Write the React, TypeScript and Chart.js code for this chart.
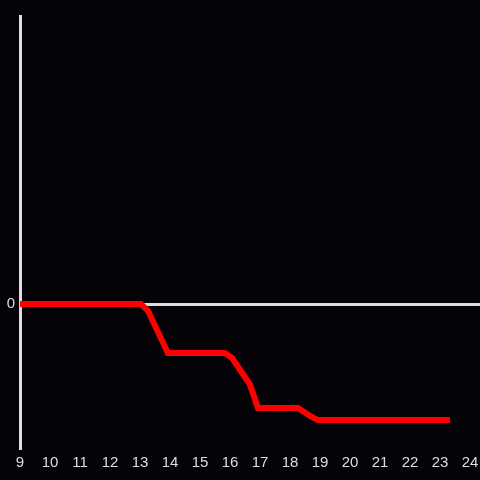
import React, { useEffect, useRef } from "react";
import { Chart, registerables } from "chart.js";

Chart.register(...registerables);

const hours: number[] = [9, 13.03, 13.27, 13.93, 15.83, 16.07, 16.67, 16.93, 18.27, 18.67, 18.93, 23.33];
const values: number[] = [0, 0, -2.4, -17, -17, -18.75, -28.1, -36.1, -36.1, -38.9, -40.3, -40.3];
const xMin = 9;
const xMax = 24.333;
const yMin = -50;
const yMax = 100;
const yTickValues: number[] = [0];

export default function App() {
  const ref = useRef<HTMLCanvasElement | null>(null);

  useEffect(() => {
    document.body.style.margin = "0";
    document.body.style.background = "#050307";
    if (!ref.current) return;
    const axisColor = "#dedede";
    const font = { family: "'Liberation Sans', Arial, sans-serif", size: 15 };
    const chart = new Chart(ref.current, {
      type: "line",
      data: {
        datasets: [
          {
            data: hours.map((h, i) => ({ x: h, y: values[i] })),
            borderColor: "#ff0000",
            borderWidth: 6,
            pointRadius: 0,
            tension: 0,
            fill: false,
          },
        ],
      },
      options: {
        animation: false,
        responsive: false,
        maintainAspectRatio: false,
        layout: { padding: { top: 16, right: 0, bottom: 0, left: 0 } },
        plugins: { legend: { display: false }, tooltip: { enabled: false } },
        scales: {
          x: {
            type: "linear",
            min: xMin,
            max: xMax,
            grid: { display: false, drawTicks: false },
            border: { display: false },
            ticks: {
              stepSize: 1,
              includeBounds: false,
              color: axisColor,
              font,
              padding: 6,
              maxRotation: 0,
              autoSkip: false,
            },
            afterFit: (s: any) => {
              s.height = 32;
              s.paddingLeft = 0;
              s.paddingRight = 0;
            },
          },
          y: {
            type: "linear",
            min: yMin,
            max: yMax,
            afterBuildTicks: (s: any) => {
              s.ticks = yTickValues.map((v) => ({ value: v }));
            },
            grid: { color: axisColor, lineWidth: 3, drawTicks: false },
            border: { display: true, color: axisColor, width: 3 },
            ticks: { color: axisColor, font, padding: 5 },
            afterFit: (s: any) => {
              s.width = 20;
              s.paddingTop = 0;
              s.paddingBottom = 0;
            },
          },
        },
      },
    });
    return () => chart.destroy();
  }, []);

  return (
    <div style={{ width: 480, height: 480, background: "#050307" }}>
      <canvas ref={ref} width={480} height={480} style={{ display: "block" }} />
    </div>
  );
}
